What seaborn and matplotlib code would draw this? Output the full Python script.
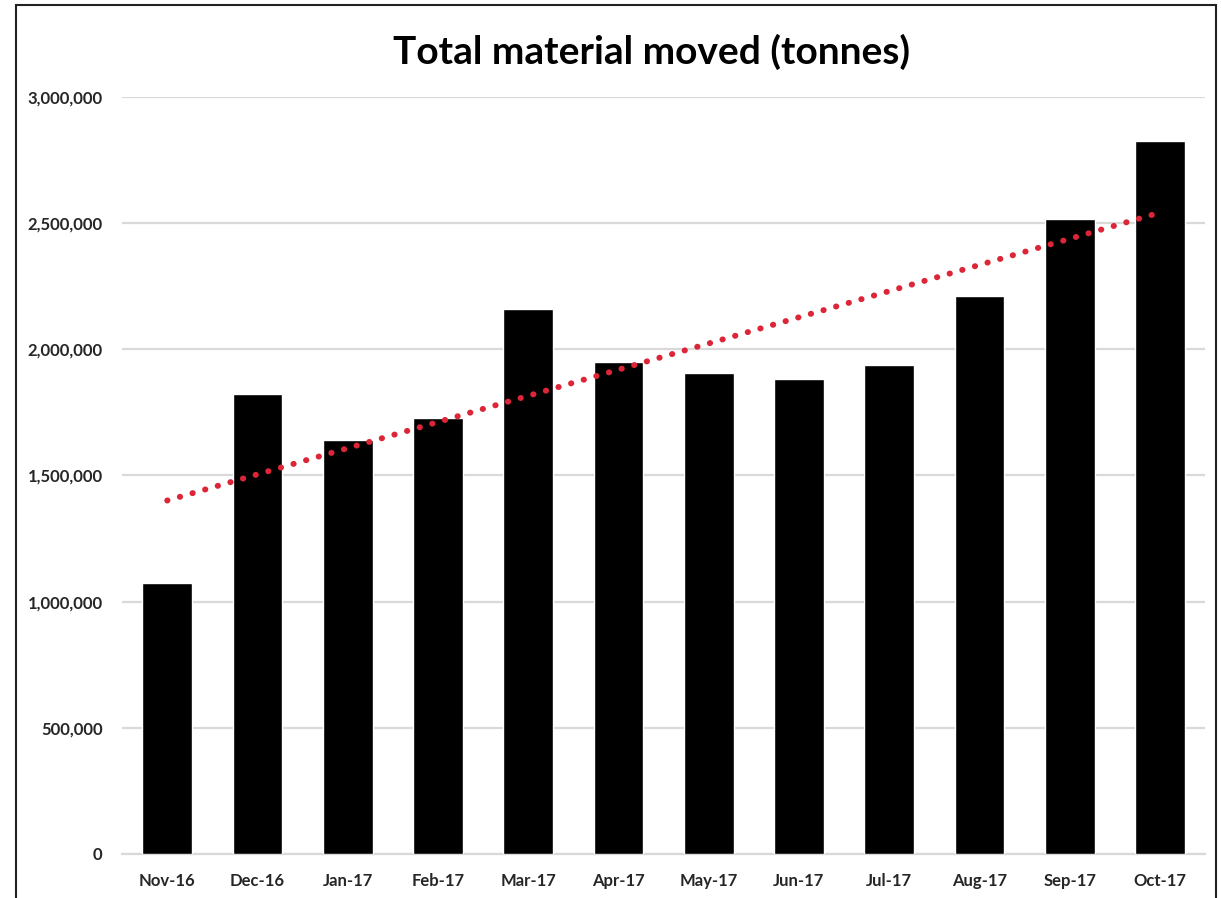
import matplotlib
matplotlib.use("Agg")
import matplotlib.pyplot as plt
import matplotlib.ticker as mticker
from matplotlib.patches import Rectangle
import seaborn as sns
import numpy as np
import pandas as pd

months = ["Nov-16", "Dec-16", "Jan-17", "Feb-17", "Mar-17", "Apr-17",
          "May-17", "Jun-17", "Jul-17", "Aug-17", "Sep-17", "Oct-17"]
tonnes = [1075000, 1823000, 1641000, 1728000, 2160000, 1950000,
          1906000, 1882000, 1938000, 2211000, 2517000, 2826000]
y_ticks = [0, 500000, 1000000, 1500000, 2000000, 2500000, 3000000]

df = pd.DataFrame({"month": months, "tonnes": tonnes})

sns.set_theme(style="white")
plt.rcParams["font.family"] = ["Lato", "DejaVu Sans"]

fig = plt.figure(figsize=(12.21, 8.98), dpi=100)
ax = fig.add_axes([0.1, 0.049, 0.887, 0.843])

sns.barplot(data=df, x="month", y="tonnes", color="black", width=0.55,
            saturation=1, ax=ax, zorder=3)

# linear trendline
xs = np.arange(len(months))
slope, intercept = np.polyfit(xs, tonnes, 1)
ax.plot(xs, slope * xs + intercept, color="#dc2638", linewidth=4.3,
        linestyle=(0, (0.05, 2.15)), dash_capstyle="round", zorder=4)

ax.set_ylim(0, 3000000)
ax.set_xlim(-0.5, len(months) - 0.5)
ax.set_yticks(y_ticks)
ax.yaxis.set_major_formatter(mticker.FuncFormatter(lambda v, p: f"{int(v):,}"))
ax.grid(axis="y", color="#d9d9d9", linewidth=1.6, zorder=0)
ax.set_axisbelow(True)
for s in ["left", "right", "top"]:
    ax.spines[s].set_visible(False)
ax.spines["bottom"].set_color("#d9d9d9")
ax.spines["bottom"].set_linewidth(1.6)
ax.tick_params(axis="both", length=0, labelsize=12, labelcolor="#262626")
ax.tick_params(axis="y", pad=14)
ax.tick_params(axis="x", pad=14)
for lbl in ax.get_xticklabels() + ax.get_yticklabels():
    lbl.set_fontweight("bold")
ax.set_xlabel("")
ax.set_ylabel("")

fig.text(0.534, 0.942, "Total material moved (tonnes)", ha="center", va="center",
         fontsize=28, fontweight="bold", color="black")

# outer frame
fig.patches.append(Rectangle((16 / 1221, -0.1), 1200 / 1221, 1.1 - 5 / 898,
                             transform=fig.transFigure, fill=False,
                             edgecolor="#222222", linewidth=1.5))

fig.savefig("out.png", dpi=100)
